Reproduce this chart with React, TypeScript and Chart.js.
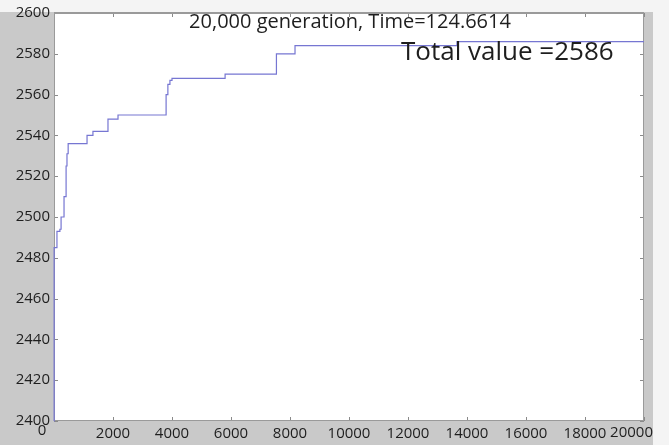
import React, { useEffect, useRef } from "react";
import { Chart, registerables } from "chart.js";

Chart.register(...registerables);

// Best fitness per generation of the genetic algorithm run
const generations = [0, 5, 100, 200, 240, 340, 410, 440, 480, 1120, 1320, 1830, 2170, 3800, 3860, 3930, 4000, 5800, 7540, 8170, 13660, 20000];
const totalValues = [2400, 2485, 2493, 2494, 2500, 2510, 2525, 2531, 2536, 2540, 2542, 2548, 2550, 2560, 2565, 2567, 2568, 2570, 2580, 2584, 2586, 2586];

const xTicks = [0, 2000, 4000, 6000, 8000, 10000, 12000, 14000, 16000, 18000, 20000];
const yTicks = [2400, 2420, 2440, 2460, 2480, 2500, 2520, 2540, 2560, 2580, 2600];

const titleText = "20,000 generation, Time=124.6614";
const noteText = "Total value =2586";

const FONT = '"Open Sans", "DejaVu Sans", sans-serif';

// Figure background, frame with inward tick marks, x labels and the two captions
const framePlugin = {
  id: "frame",
  beforeDraw(chart: any) {
    const { ctx, width, height, chartArea } = chart;
    ctx.save();
    ctx.fillStyle = "#f4f4f4";
    ctx.fillRect(0, 0, width, height);
    ctx.fillStyle = "#c9c9c9";
    ctx.fillRect(0, 12, 653, height - 12);
    ctx.fillStyle = "#ffffff";
    ctx.fillRect(chartArea.left, chartArea.top, chartArea.right - chartArea.left, chartArea.bottom - chartArea.top);
    ctx.restore();
  },
  beforeDatasetsDraw(chart: any) {
    const { ctx, chartArea } = chart;
    const xs = chart.scales.x;
    const ys = chart.scales.y;
    const { left, right, top, bottom } = chartArea;
    ctx.save();
    ctx.strokeStyle = "#8a8a8a";
    ctx.lineWidth = 1;
    ctx.beginPath();
    xTicks.forEach((v) => {
      const px = Math.round(xs.getPixelForValue(v)) + 0.5;
      ctx.moveTo(px, bottom);
      ctx.lineTo(px, bottom - 4);
      ctx.moveTo(px, top);
      ctx.lineTo(px, top + 4);
    });
    yTicks.forEach((v) => {
      const py = Math.round(ys.getPixelForValue(v)) + 0.5;
      ctx.moveTo(left, py);
      ctx.lineTo(left + 4, py);
      ctx.moveTo(right, py);
      ctx.lineTo(right - 4, py);
    });
    ctx.stroke();

    ctx.strokeStyle = "#9a9a9a";
    ctx.strokeRect(left + 0.5, top + 0.5, right - left - 1, bottom - top - 1);
    ctx.lineWidth = 2;
    ctx.beginPath();
    ctx.moveTo(left, top);
    ctx.lineTo(right, top);
    ctx.stroke();
    ctx.restore();
  },
  afterDraw(chart: any) {
    const { ctx, chartArea } = chart;
    const xs = chart.scales.x;
    const { top, bottom } = chartArea;
    ctx.save();
    // x tick labels: the first sits under the y labels, the last stays inside the figure
    ctx.fillStyle = "#1e1e1e";
    ctx.font = `15px ${FONT}`;
    ctx.textBaseline = "middle";
    xTicks.forEach((v, i) => {
      const px = xs.getPixelForValue(v);
      if (i === 0) {
        ctx.textAlign = "center";
        ctx.fillText(String(v), px - 12, bottom + 10);
      } else if (i === xTicks.length - 1) {
        ctx.textAlign = "right";
        ctx.fillText(String(v), px + 9, bottom + 12);
      } else {
        ctx.textAlign = "center";
        ctx.fillText(String(v), px, bottom + 13);
      }
    });

    ctx.font = `20px ${FONT}`;
    ctx.textAlign = "center";
    ctx.textBaseline = "alphabetic";
    ctx.fillText(titleText, 350, top + 15);

    ctx.font = `26px ${FONT}`;
    ctx.textAlign = "left";
    ctx.fillText(noteText, 401, 60);
    ctx.restore();
  },
};

export default function App() {
  const canvasRef = useRef<HTMLCanvasElement | null>(null);

  useEffect(() => {
    const canvas = canvasRef.current;
    if (!canvas) return;
    const points = generations.map((g, i) => ({ x: g, y: totalValues[i] }));
    const chart = new Chart(canvas, {
      type: "line",
      data: {
        datasets: [
          {
            data: points,
            borderColor: "rgb(118,118,210)",
            borderWidth: 1.2,
            pointRadius: 0,
            stepped: "before",
            fill: false,
            clip: 2,
          },
        ],
      },
      options: {
        animation: false,
        responsive: false,
        devicePixelRatio: 1,
        layout: { padding: { top: 13, right: 25, left: 0, bottom: 0 } },
        plugins: {
          legend: { display: false },
          tooltip: { enabled: false },
          title: { display: false },
        },
        scales: {
          x: {
            type: "linear",
            min: 0,
            max: 20000,
            afterFit: (s: any) => {
              s.height = 24;
            },
            afterBuildTicks: (s: any) => {
              s.ticks = xTicks.map((v) => ({ value: v }));
            },
            grid: { display: false, drawTicks: false },
            border: { display: false },
            ticks: { display: false, autoSkip: false },
          },
          y: {
            type: "linear",
            min: 2400,
            max: 2600,
            afterFit: (s: any) => {
              s.width = 54;
            },
            afterBuildTicks: (s: any) => {
              s.ticks = yTicks.map((v) => ({ value: v }));
            },
            grid: { display: false, drawTicks: false },
            border: { display: false },
            ticks: {
              color: "#1e1e1e",
              font: { family: FONT, size: 15 },
              padding: 4,
              autoSkip: false,
              callback: (v: any) => String(v),
            },
          },
        },
      },
      plugins: [framePlugin],
    });
    return () => chart.destroy();
  }, []);

  return (
    <div style={{ position: "fixed", left: 0, top: 0, width: 669, height: 445 }}>
      <canvas ref={canvasRef} width={669} height={445} style={{ display: "block" }} />
    </div>
  );
}
